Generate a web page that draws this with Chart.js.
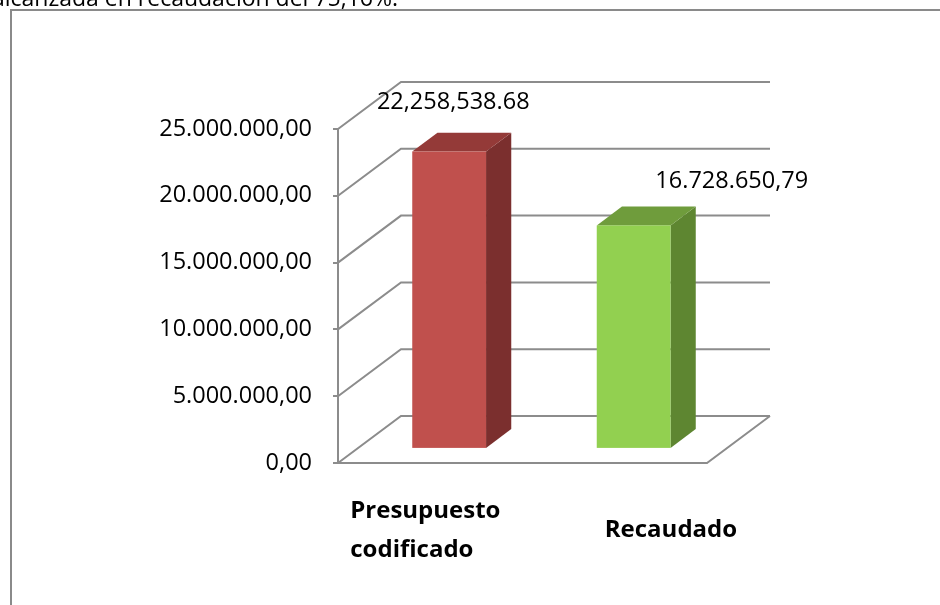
<!DOCTYPE html>
<html>
<head>
<meta charset="utf-8">
<script src="https://cdn.jsdelivr.net/npm/chart.js@4.4.1/dist/chart.umd.min.js"></script>
<style>
html, body { margin: 0; padding: 0; background: #fff; overflow: hidden; }
canvas { display: block; }
</style>
</head>
<body>
<canvas id="myChart" width="940" height="605"></canvas>
<script>
// données du graphique
const categories = [['Presupuesto', 'codificado'], ['Recaudado']];
const values = [22258538.68, 16728650.79];
const labelSeparators = [[',', '.'], ['.', ',']]; // milliers, décimales (comme dans l'original)
const yTicks = [0, 5000000, 10000000, 15000000, 20000000, 25000000];
const introText = 'una ejecución presupuestaria alcanzada en recaudación del 75,16%.';

const frontColors = ['#c0504d', '#92d050'];
const sideColors = ['#7b2f2e', '#5e8631'];
const topColors = ['#943a38', '#6f9c3c'];

const GRID = '#8c8c8c';
const DX = 63, DY = -47;          // profondeur du mur
const BAR_FRONT = 0.3, BAR_DEPTH = 0.4;
const labelOffsets = [{dx: 23, dy: -57}, {dx: 117, dy: -52}];
const catOffsets = [{dx: -80, dy: 55}, {dx: -10, dy: 74}];

function formatNumber(v, thou, dec) {
    const parts = v.toFixed(2).split('.');
    return parts[0].replace(/\B(?=(\d{3})+(?!\d))/g, thou) + dec + parts[1];
}

const bars3d = {
    id: 'bars3d',
    beforeDraw(chart) {
        const ctx = chart.ctx;
        ctx.save();
        // cadre
        ctx.strokeStyle = '#8a8a8a';
        ctx.lineWidth = 2;
        ctx.beginPath();
        ctx.moveTo(11, 605);
        ctx.lineTo(11, 10);
        ctx.lineTo(940, 10);
        ctx.stroke();
        // texte coupé en haut
        ctx.fillStyle = '#000';
        ctx.font = '23px "Open Sans"';
        ctx.textAlign = 'right';
        ctx.textBaseline = 'alphabetic';
        ctx.fillText(introText, 398, 6);
        ctx.restore();
    },
    beforeDatasetsDraw(chart) {
        const {ctx, chartArea: a, scales: {y}} = chart;
        ctx.save();
        ctx.strokeStyle = GRID;
        ctx.lineWidth = 2;
        yTicks.forEach(v => {
            const py = y.getPixelForValue(v);
            ctx.beginPath();
            ctx.moveTo(a.left, py);
            ctx.lineTo(a.left + DX, py + DY);
            ctx.lineTo(a.right + DX, py + DY);
            ctx.stroke();
        });
        const py0 = y.getPixelForValue(0);
        ctx.beginPath();
        ctx.moveTo(a.left, py0);
        ctx.lineTo(a.right, py0);
        ctx.lineTo(a.right + DX, py0 + DY);
        ctx.stroke();
        ctx.restore();
    },
    afterDatasetsDraw(chart) {
        const ctx = chart.ctx;
        const meta = chart.getDatasetMeta(0);
        ctx.save();
        meta.data.forEach((el, i) => {
            const {x, y, base, width} = el.getProps(['x', 'y', 'base', 'width'], true);
            const x0 = x - width / 2 + BAR_FRONT * DX;
            const x1 = x0 + width;
            const yt = y + BAR_FRONT * DY;
            const yb = base + BAR_FRONT * DY;
            const ddx = BAR_DEPTH * DX, ddy = BAR_DEPTH * DY;
            // côté
            ctx.fillStyle = sideColors[i];
            ctx.beginPath();
            ctx.moveTo(x1, yt);
            ctx.lineTo(x1 + ddx, yt + ddy);
            ctx.lineTo(x1 + ddx, yb + ddy);
            ctx.lineTo(x1, yb);
            ctx.closePath();
            ctx.fill();
            // dessus
            ctx.fillStyle = topColors[i];
            ctx.beginPath();
            ctx.moveTo(x0, yt);
            ctx.lineTo(x0 + ddx, yt + ddy);
            ctx.lineTo(x1 + ddx, yt + ddy);
            ctx.lineTo(x1, yt);
            ctx.closePath();
            ctx.fill();
            // face
            ctx.fillStyle = frontColors[i];
            ctx.fillRect(x0, yt, width, yb - yt);

            // étiquette de valeur
            ctx.fillStyle = '#000';
            ctx.font = '23.5px "Open Sans"';
            ctx.textAlign = 'center';
            ctx.textBaseline = 'alphabetic';
            const sep = labelSeparators[i];
            ctx.fillText(formatNumber(values[i], sep[0], sep[1]), x + labelOffsets[i].dx, y + labelOffsets[i].dy);
        });
        // catégories
        const xs = chart.scales.x;
        const py0 = chart.scales.y.getPixelForValue(0);
        ctx.font = 'bold 24px "Open Sans"';
        ctx.textAlign = 'left';
        categories.forEach((lines, i) => {
            const cx = xs.getPixelForValue(i);
            lines.forEach((line, j) => {
                ctx.fillText(line, cx + catOffsets[i].dx, py0 + catOffsets[i].dy + j * 39);
            });
        });
        ctx.restore();
    }
};

const data = {
    labels: categories.map(c => c.join(' ')),
    datasets: [{
        label: 'Valor',
        data: values,
        backgroundColor: 'rgba(0,0,0,0)',
        borderWidth: 0,
        barPercentage: 1,
        categoryPercentage: 0.4
    }]
};

const config = {
    type: 'bar',
    data: data,
    options: {
        responsive: false,
        animation: false,
        devicePixelRatio: 1,
        layout: {
            padding: {left: 0, right: 233, top: 129, bottom: 142}
        },
        scales: {
            x: {
                display: false
            },
            y: {
                min: 0,
                max: 25000000,
                afterFit(scale) { scale.width = 338; },
                afterBuildTicks(scale) { scale.ticks = yTicks.map(v => ({value: v})); },
                grid: {
                    drawOnChartArea: false,
                    drawTicks: true,
                    tickLength: 5,
                    color: GRID,
                    lineWidth: 2
                },
                border: {
                    display: true,
                    color: GRID,
                    width: 2
                },
                ticks: {
                    padding: 21,
                    color: '#000',
                    font: { family: 'Open Sans', size: 23.5 },
                    callback: v => formatNumber(v, '.', ',')
                }
            }
        },
        plugins: {
            legend: { display: false },
            tooltip: { enabled: false },
            title: { display: false }
        }
    },
    plugins: [bars3d]
};

const myChart = new Chart(document.getElementById('myChart'), config);
</script>
</body>
</html>
